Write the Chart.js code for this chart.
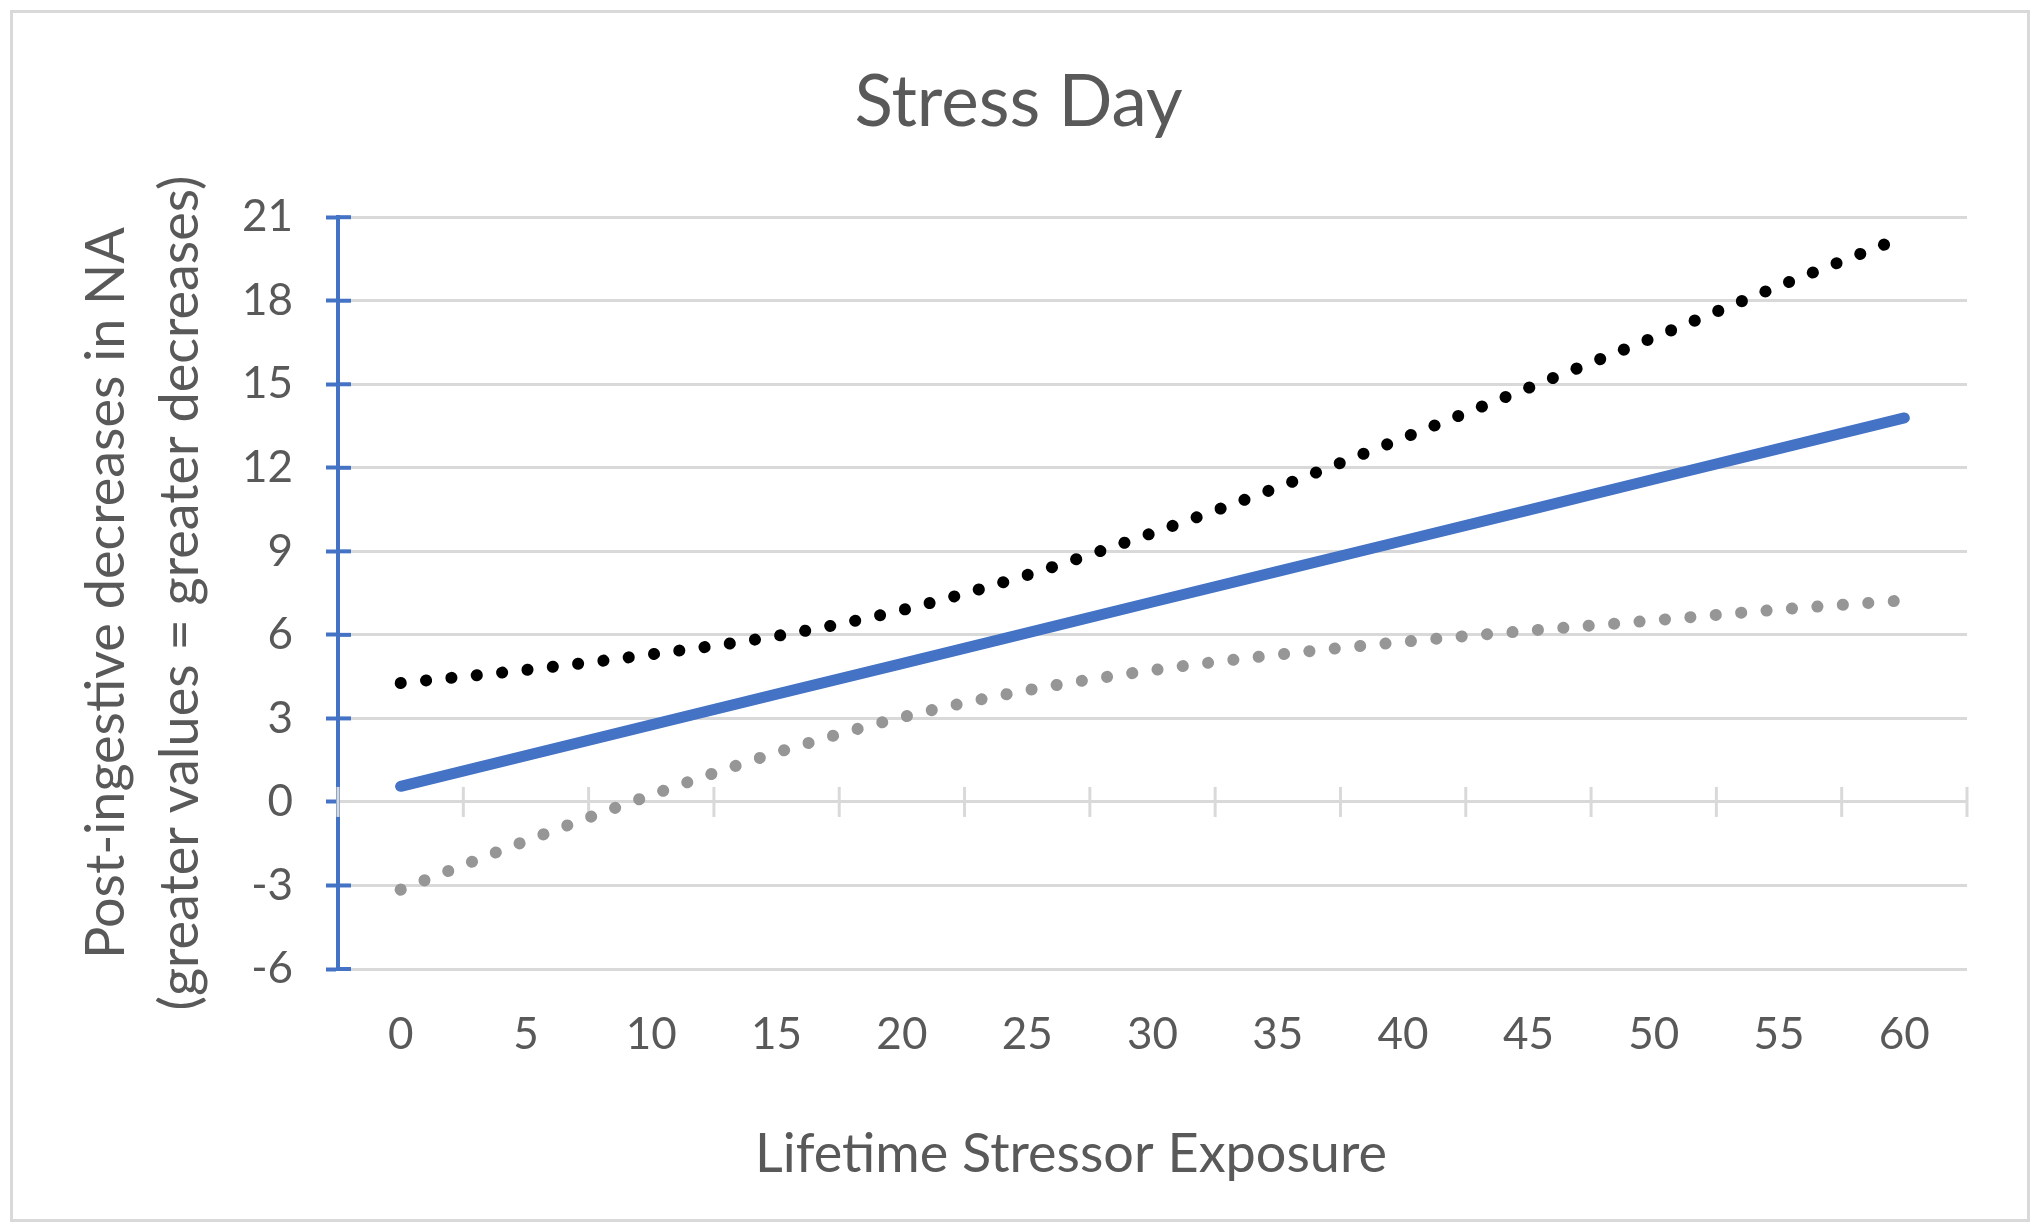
<!DOCTYPE html>
<html lang="en">
<head>
<meta charset="UTF-8">
<title>Stress Day</title>
<script src="https://cdn.jsdelivr.net/npm/chart.js@4"></script>
<style>
  html, body { margin: 0; padding: 0; background: #fff; }
  #wrap { width: 2040px; height: 1232px; position: relative; }
</style>
</head>
<body>
<div id="wrap"><canvas id="chart"></canvas></div>
<script>
// lifetime stressor exposure (x categories)
const exposure = ['0', '5', '10', '15', '20', '25', '30', '35', '40', '45', '50', '55', '60'];
// simple slope estimate (solid blue)
const estimate = [0.56, 1.66, 2.77, 3.87, 4.97, 6.07, 7.18, 8.28, 9.38, 10.48, 11.59, 12.69, 13.79];
// upper confidence bound (black dots)
const upperBound = [4.27, 4.74, 5.30, 5.96, 6.89, 8.15, 9.66, 11.30, 13.07, 14.87, 16.68, 18.53, 20.3];
// lower confidence bound (grey dots)
const lowerBound = [-3.15, -1.40, 0.25, 1.77, 3.04, 4.01, 4.73, 5.29, 5.75, 6.15, 6.52, 6.91, 7.24];

const yMin = -6, yMax = 21, yStep = 3;

const textGray = '#595959';
const gridGray = '#d9d9d9';
const axisBlue = '#4472c4';
const xTitle = 'Lifetime Stressor Exposure';

Chart.defaults.font.family = "Lato, 'Open Sans', sans-serif";

const decorations = {
    id: 'decorations',
    beforeDraw(chart) {
        const ctx = chart.ctx;
        ctx.save();
        ctx.fillStyle = '#fff';
        ctx.fillRect(0, 0, chart.width, chart.height);
        ctx.strokeStyle = gridGray;
        ctx.lineWidth = 3;
        ctx.strokeRect(11.5, 11.5, chart.width - 23, chart.height - 23);
        ctx.restore();
    },
    beforeDatasetsDraw(chart) {
        const ctx = chart.ctx;
        const x = chart.scales.x, y = chart.scales.y;
        ctx.save();
        // value axis tick marks cross the axis line
        ctx.strokeStyle = axisBlue;
        ctx.lineWidth = 4;
        y.ticks.forEach(t => {
            if (t.value === 0) return;
            const py = y.getPixelForValue(t.value);
            ctx.beginPath();
            ctx.moveTo(x.left, py);
            ctx.lineTo(x.left + 13, py);
            ctx.stroke();
        });
        // category boundary marks on the zero line
        const y0 = y.getPixelForValue(0);
        const step = (x.right - x.left) / exposure.length;
        ctx.strokeStyle = gridGray;
        ctx.lineWidth = 3;
        for (let k = 0; k <= exposure.length; k++) {
            const px = x.left + k * step;
            ctx.beginPath();
            ctx.moveTo(px, y0 - 15);
            ctx.lineTo(px, y0 + 15);
            ctx.stroke();
        }
        ctx.restore();
    },
    afterDraw(chart) {
        const ctx = chart.ctx;
        ctx.save();
        ctx.font = "54px Lato, 'Open Sans', sans-serif";
        ctx.fillStyle = textGray;
        ctx.textAlign = 'center';
        ctx.textBaseline = 'middle';
        ctx.fillText(xTitle, 1071, 1155);
        ctx.restore();
    }
};

const dotted = {
    borderWidth: 12,
    borderDash: [0.1, 25.4],
    borderCapStyle: 'round',
    pointRadius: 0,
    fill: false,
    cubicInterpolationMode: 'monotone'
};

new Chart(document.getElementById('chart'), {
    type: 'line',
    data: {
        labels: exposure,
        datasets: [
            { label: 'Estimate', data: estimate, borderColor: axisBlue, borderWidth: 11, borderCapStyle: 'round', pointRadius: 0, fill: false },
            Object.assign({ label: 'Upper bound', data: upperBound, borderColor: '#000000' }, dotted),
            Object.assign({ label: 'Lower bound', data: lowerBound, borderColor: '#969696' }, dotted)
        ]
    },
    options: {
        responsive: true,
        maintainAspectRatio: false,
        animation: false,
        layout: { padding: { left: 70, right: 73, top: 61, bottom: 172 } },
        plugins: {
            legend: { display: false },
            tooltip: { enabled: false },
            title: {
                display: true,
                text: 'Stress Day',
                color: textGray,
                font: { size: 71, weight: 'normal', lineHeight: 1.2 },
                padding: { top: 0, bottom: 71 }
            }
        },
        scales: {
            x: {
                type: 'category',
                offset: true,
                grid: { display: false, drawTicks: false },
                border: { display: false },
                ticks: { color: textGray, font: { size: 44 }, padding: 39, maxRotation: 0, autoSkip: false },
                afterFit(scale) { scale.height = 91; }
            },
            y: {
                min: yMin,
                max: yMax,
                ticks: { stepSize: yStep, color: textGray, font: { size: 44 }, padding: 33 },
                grid: { color: gridGray, lineWidth: 3, tickColor: axisBlue, tickLength: 12, tickWidth: 4 },
                border: { color: axisBlue, width: 4 },
                title: {
                    display: true,
                    text: ['Post-ingestive decreases in NA', '(greater values = greater decreases)'],
                    color: textGray,
                    font: { size: 54, lineHeight: 1.37 },
                    padding: { top: 0, bottom: 0 }
                },
                afterFit(scale) { scale.width = 268; }
            }
        }
    },
    plugins: [decorations]
});
</script>
</body>
</html>
